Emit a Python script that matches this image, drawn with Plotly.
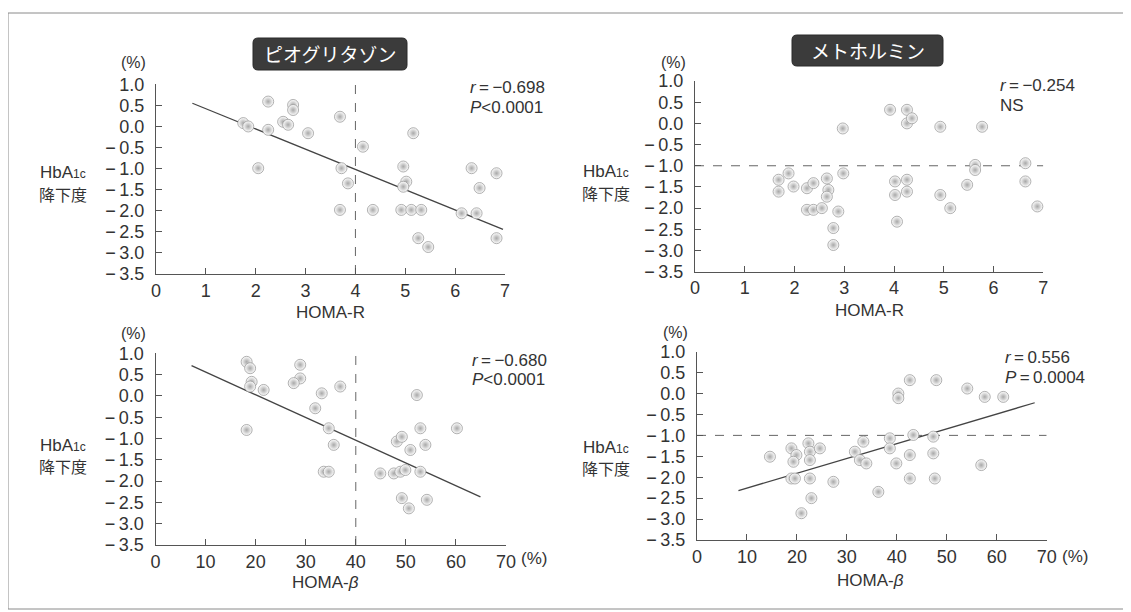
import plotly.graph_objects as go

W, H = 1131, 612
OFF = 8  # page body margin in the screenshot

# ---------------- data ----------------
# Pioglitazone vs HOMA-R
pio_r_x = [1.75, 1.85, 2.25, 2.25, 2.05, 2.75, 2.75, 2.55, 2.65, 3.05, 3.69, 3.72, 3.85, 3.69, 4.15, 4.35,
           5.16, 4.96, 5.02, 4.96, 4.92, 5.12, 5.32, 5.26, 5.46, 6.33, 6.83, 6.49, 6.13, 6.43, 6.83]
pio_r_y = [0.08, 0.0, 0.59, -0.08, -0.99, 0.51, 0.39, 0.11, 0.04, -0.16, 0.23, -0.99, -1.35, -1.98, -0.48, -1.98,
           -0.16, -0.95, -1.31, -1.43, -1.98, -1.98, -1.98, -2.65, -2.86, -0.99, -1.11, -1.46, -2.06, -2.06, -2.65]
pio_r_fit_x = [0.73, 6.96]
pio_r_fit_y = [0.55, -2.44]
pio_r_cut = 4.0

# Metformin vs HOMA-R
met_r_x = [1.68, 1.88, 1.68, 1.98, 2.25, 2.38, 2.25, 2.38, 2.55, 2.65, 2.68, 2.65, 2.88, 2.78, 2.78, 2.97, 2.98,
           3.92, 4.26, 4.26, 4.36, 4.02, 4.26, 4.02, 4.26, 4.06, 4.93, 5.77, 5.63, 5.63, 5.47, 4.93, 5.13,
           6.64, 6.64, 6.88]
met_r_y = [-1.33, -1.18, -1.61, -1.49, -1.53, -1.41, -2.04, -2.04, -2.0, -1.30, -1.57, -1.73, -2.08, -2.47, -2.87,
           -0.12, -1.18, 0.32, 0.32, 0.0, 0.12, -1.37, -1.33, -1.69, -1.61, -2.32, -0.08, -0.08, -0.98, -1.10,
           -1.45, -1.69, -2.0, -0.94, -1.37, -1.96]
met_cut_y = -1.0

# Pioglitazone vs HOMA-beta
pio_b_x = [18.2, 18.9, 19.2, 18.9, 21.6, 18.2, 28.9, 28.9, 27.6, 33.2, 36.9, 31.9, 34.6, 35.6, 33.6, 34.6,
           52.2, 52.9, 60.2, 48.2, 49.2, 50.9, 53.9, 44.9, 47.6, 48.9, 49.9, 52.9, 49.2, 50.6, 54.2]
pio_b_y = [0.80, 0.65, 0.33, 0.22, 0.14, -0.80, 0.73, 0.41, 0.30, 0.06, 0.22, -0.29, -0.76, -1.15, -1.78, -1.78,
           0.02, -0.76, -0.76, -1.07, -0.96, -1.27, -1.15, -1.82, -1.82, -1.78, -1.74, -1.78, -2.40, -2.64, -2.44]
pio_b_fit_x = [7.2, 64.9]
pio_b_fit_y = [0.71, -2.37]
pio_b_cut = 40.0

# Metformin vs HOMA-beta
met_b_x = [14.6, 18.9, 19.9, 19.3, 18.9, 19.6, 22.3, 22.6, 22.6, 24.6, 22.6, 22.9, 20.9, 27.3, 31.6, 33.3, 32.6,
           33.9, 36.3, 38.6, 38.6, 40.3, 40.3, 42.6, 39.9, 43.3, 42.6, 42.6, 47.3, 47.3, 47.6, 47.9, 54.1, 57.6,
           61.3, 56.9]
met_b_y = [-1.51, -1.31, -1.47, -1.63, -2.03, -2.03, -1.19, -1.39, -1.59, -1.31, -2.03, -2.50, -2.86, -2.11,
           -1.39, -1.15, -1.59, -1.67, -2.35, -1.07, -1.31, 0.0, -0.11, 0.32, -1.67, -0.99, -1.47, -2.03, -1.03,
           -1.43, -2.03, 0.32, 0.12, -0.08, -0.08, -1.71]
met_b_fit_x = [8.3, 67.6]
met_b_fit_y = [-2.32, -0.22]

titles = ["ピオグリタゾン", "メトホルミン"]
TS = "\u2009"  # thin space
stats = [[f"<i>r</i>{TS}={TS}−0.698", "<i>P</i>&lt;0.0001"],
         [f"<i>r</i>{TS}={TS}−0.254", "NS"],
         [f"<i>r</i>{TS}={TS}−0.680", "<i>P</i>&lt;0.0001"],
         [f"<i>r</i>{TS}={TS}0.556", f"<i>P</i>{TS}={TS}0.0004"]]
y_ticks = [1.0, 0.5, 0.0, -0.5, -1.0, -1.5, -2.0, -2.5, -3.0, -3.5]
y_ticktext = [f"{v:.1f}".replace("-", "−" + TS) for v in y_ticks]
xr_ticks = [0, 1, 2, 3, 4, 5, 6, 7]
xb_ticks = [0, 10, 20, 30, 40, 50, 60, 70]

# ---------------- helpers ----------------
def px(x):
    return (x - OFF) / W

def py(y):
    return 1 - (y - OFF) / H

TXT = "#333333"
AX = "#555555"
FONT = "Liberation Sans, Arial, sans-serif"
JFONT = "Noto Sans CJK JP, sans-serif"

# panel pixel boxes: (left, right, top(1.0), bottom(-3.5))
boxes = [(156, 505, 84.3, 274.0),
         (695, 1043.3, 81.0, 271.7),
         (155.5, 506, 353.3, 545.0),
         (697, 1046.7, 351.7, 540.0)]

fig = go.Figure()

marker = dict(size=11, color="white", symbol="circle",
              gradient=dict(type="radial", color="#a8a8a8"),
              line=dict(width=0.7, color="#909090"))

def scatter(x, y, i):
    fig.add_trace(go.Scatter(x=x, y=y, mode="markers", marker=marker, cliponaxis=False,
                             xaxis=f"x{i}", yaxis=f"y{i}", showlegend=False, hoverinfo="x+y"))

def line(x, y, i, dash="solid", width=1.3, color="#444444"):
    fig.add_trace(go.Scatter(x=x, y=y, mode="lines", line=dict(color=color, width=width, dash=dash),
                             xaxis=f"x{i}", yaxis=f"y{i}", showlegend=False, hoverinfo="skip",
                             cliponaxis=False))

# panel 1
line([pio_r_cut, pio_r_cut], [y_ticks[-1], y_ticks[0]], 1, dash="dash", width=1, color="#666")
line(pio_r_fit_x, pio_r_fit_y, 1)
scatter(pio_r_x, pio_r_y, 1)
# panel 2
line([xr_ticks[0], xr_ticks[-1]], [met_cut_y, met_cut_y], 2, dash="dash", width=1, color="#666")
scatter(met_r_x, met_r_y, 2)
# panel 3
line([pio_b_cut, pio_b_cut], [y_ticks[-1], y_ticks[0]], 3, dash="dash", width=1, color="#666")
line(pio_b_fit_x, pio_b_fit_y, 3)
scatter(pio_b_x, pio_b_y, 3)
# panel 4
line([xb_ticks[0], xb_ticks[-1]], [met_cut_y, met_cut_y], 4, dash="dash", width=1, color="#666")
line(met_b_fit_x, met_b_fit_y, 4)
scatter(met_b_x, met_b_y, 4)

layout = dict(width=W, height=H, margin=dict(l=0, r=0, t=0, b=0, pad=0, autoexpand=False),
              template="none",
              paper_bgcolor="white", plot_bgcolor="white", showlegend=False)

for i, (l, r, t, b) in enumerate(boxes, start=1):
    xt = xr_ticks if i <= 2 else xb_ticks
    common = dict(showline=True, linecolor=AX, linewidth=1.2, ticks="inside", ticklen=6,
                  tickcolor=AX, tickwidth=1.2, showgrid=False, zeroline=False, automargin=False,
                  tickfont=dict(family=FONT, size=18, color=TXT), fixedrange=True)
    layout[f"xaxis{i}" if i > 1 else "xaxis"] = dict(
        domain=[px(l), px(r)], range=[xt[0], xt[-1]], tickvals=xt, ticktext=[str(v) for v in xt],
        anchor=f"y{i}", **common)
    layout[f"yaxis{i}" if i > 1 else "yaxis"] = dict(
        domain=[py(b), py(t)], range=[y_ticks[-1], y_ticks[0]], tickvals=y_ticks, ticktext=y_ticktext,
        anchor=f"x{i}", ticklabelstandoff=7, **common)

fig.update_layout(**layout)

ann = []
shapes = []

def text(x, y, s, size=17, xanchor="center", font=FONT, color=TXT):
    ann.append(dict(x=px(x), y=py(y), xref="paper", yref="paper", text=s, showarrow=False,
                    xanchor=xanchor, yanchor="middle", font=dict(family=font, size=size, color=color)))

# outer frame
shapes.append(dict(type="rect", xref="paper", yref="paper", x0=px(8), x1=px(1124), y0=py(609), y1=py(13),
                   line=dict(color="#8a8a8a", width=1)))

# title boxes (rounded)
def rbox(x0, y0, x1, y1, rad=5):
    X0, X1 = px(x0), px(x1)
    Y0, Y1 = py(y1), py(y0)
    rx, ry = rad / W, rad / H
    path = (f"M {X0+rx},{Y0} L {X1-rx},{Y0} Q {X1},{Y0} {X1},{Y0+ry} L {X1},{Y1-ry} Q {X1},{Y1} {X1-rx},{Y1} "
            f"L {X0+rx},{Y1} Q {X0},{Y1} {X0},{Y1-ry} L {X0},{Y0+ry} Q {X0},{Y0} {X0+rx},{Y0} Z")
    shapes.append(dict(type="path", xref="paper", yref="paper", path=path,
                       fillcolor="#3b3b3b", line=dict(color="#2a2a2a", width=1)))

rbox(253, 38, 407, 70)
text(330, 54, titles[0], size=19, font=JFONT, color="white")
rbox(792, 35, 943, 66)
text(867.5, 50.5, titles[1], size=19, font=JFONT, color="white")

# y-axis unit labels and titles
for (ux, uy), (hx, hy) in [((133, 62), (63, 173)), ((673, 62), (606, 172)),
                            ((133, 333), (63, 445)), ((675, 332), (606, 447))]:
    text(ux, uy, "(%)", size=16)
    text(hx, hy, "HbA<span style='font-size:12px'>1c</span>", size=17)
    text(hx, hy + 21, "降下度", size=16, font=JFONT)

# x-axis titles
text(330, 312, "HOMA-R", size=17)
text(869, 310, "HOMA-R", size=17)
text(325, 582, "HOMA-<i>β</i>", size=17)
text(870, 580, "HOMA-<i>β</i>", size=17)
# (%) after 70
text(519, 558, "(%)", size=17, xanchor="left")
text(1060, 556, "(%)", size=17, xanchor="left")

# statistics
for (sx, sy), (l1, l2) in zip([(468, 88), (998, 85), (470, 360), (1003, 357)], stats):
    text(sx, sy, l1, size=17, xanchor="left")
    text(sx, sy + 20, l2, size=17, xanchor="left")

fig.update_layout(annotations=ann, shapes=shapes)
fig.write_html("out.html")
